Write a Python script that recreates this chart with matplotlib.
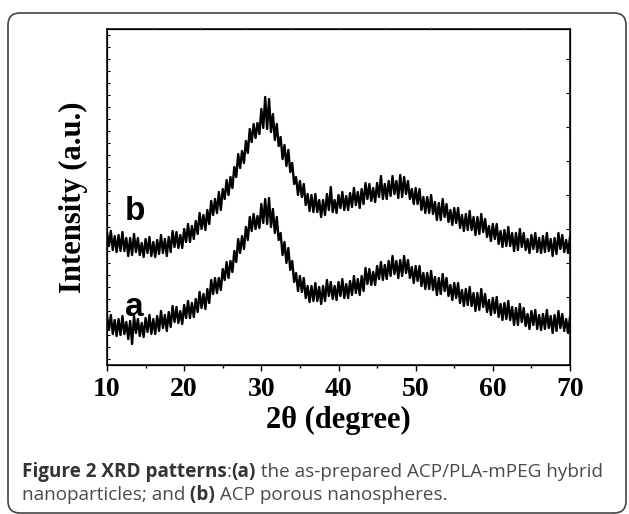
import numpy as np
import matplotlib
matplotlib.use("Agg")
import matplotlib.pyplot as plt
from matplotlib.patches import FancyBboxPatch
from matplotlib.transforms import IdentityTransform

# 2theta scan, every 0.25 degree
theta = np.linspace(10, 70, 241)

# (b) ACP porous nanospheres (upper trace), a.u.
curve_b = [
    159, 145, 160, 141, 155, 139, 156, 140, 159, 140, 153, 135, 153, 136, 157, 139,
    153, 136, 148, 134, 152, 138, 154, 135, 149, 134, 151, 137, 156, 138, 152, 135,
    154, 139, 160, 144, 159, 143, 156, 143, 162, 149, 167, 149, 165, 152, 170, 157,
    178, 162, 176, 161, 181, 167, 190, 176, 192, 178, 199, 181, 202, 192, 211, 196,
    214, 203, 224, 214, 237, 223, 240, 228, 250, 238, 262, 249, 267, 253, 268, 257,
    282, 263, 294, 262, 292, 259, 277, 251, 267, 245, 254, 232, 246, 225, 241, 219,
    228, 207, 214, 196, 210, 194, 207, 186, 197, 180, 196, 179, 197, 179, 191, 174,
    191, 176, 197, 181, 204, 179, 191, 178, 196, 183, 199, 181, 195, 181, 198, 184,
    203, 186, 199, 183, 202, 187, 208, 192, 207, 190, 203, 189, 208, 194, 215, 192,
    207, 192, 210, 195, 215, 197, 210, 193, 216, 194, 214, 197, 210, 192, 202, 187,
    203, 187, 202, 181, 194, 178, 194, 178, 196, 177, 189, 171, 188, 171, 192, 174,
    187, 169, 181, 166, 183, 168, 183, 163, 176, 160, 177, 161, 180, 161, 174, 156,
    174, 157, 177, 159, 172, 154, 165, 150, 167, 152, 167, 147, 160, 144, 161, 145,
    164, 145, 158, 140, 158, 141, 162, 144, 158, 141, 152, 138, 156, 142, 158, 139,
    153, 138, 155, 139, 158, 140, 152, 135, 153, 137, 158, 142, 156, 139, 151, 138,
    154,
]

# (a) as-prepared ACP/PLA-mPEG hybrid nanoparticles (lower trace), a.u.
curve_a = [
    75, 61, 76, 57, 71, 55, 72, 56, 75, 57, 69, 52, 70, 47, 75, 58,
    72, 55, 68, 54, 73, 59, 76, 57, 72, 57, 75, 60, 80, 63, 76, 60,
    79, 64, 85, 69, 84, 68, 80, 67, 86, 73, 90, 73, 88, 74, 92, 79,
    99, 83, 97, 82, 102, 88, 111, 97, 113, 98, 113, 101, 122, 111, 129, 113,
    130, 119, 140, 129, 152, 138, 155, 142, 164, 151, 174, 160, 177, 162, 175, 163,
    187, 168, 192, 167, 193, 164, 182, 158, 174, 151, 158, 136, 149, 128, 143, 121,
    130, 109, 118, 100, 115, 99, 113, 93, 105, 89, 105, 90, 108, 90, 104, 87,
    105, 90, 111, 95, 109, 92, 105, 91, 109, 95, 112, 93, 107, 93, 110, 96,
    115, 98, 112, 96, 115, 100, 123, 107, 122, 106, 119, 106, 125, 112, 129, 111,
    126, 112, 130, 115, 135, 117, 130, 113, 131, 115, 135, 118, 131, 113, 124, 108,
    125, 110, 125, 105, 118, 102, 118, 102, 120, 101, 114, 96, 113, 97, 117, 100,
    113, 95, 106, 91, 108, 93, 108, 88, 101, 85, 102, 86, 104, 85, 98, 80,
    98, 81, 102, 84, 97, 79, 91, 76, 93, 78, 94, 74, 87, 71, 88, 72,
    90, 71, 84, 66, 83, 66, 87, 69, 83, 65, 77, 62, 80, 66, 81, 62,
    76, 61, 77, 62, 81, 63, 75, 58, 76, 60, 80, 63, 77, 60, 72, 58,
    74,
]

curve_names = ["a", "b"]
name_pos = [(13.6, 84), (13.6, 180)]
x_ticks = [10, 20, 30, 40, 50, 60, 70]

W, H = 629, 514
fig = plt.figure(figsize=(W / 100, H / 100), dpi=100)

# rounded frame around the whole figure panel
frame = FancyBboxPatch((8, 1), 618, 500, boxstyle="round,pad=0,rounding_size=12",
                       transform=IdentityTransform(), fill=False,
                       edgecolor="#444444", linewidth=1.2)
fig.patches.append(frame)

ax = fig.add_axes([107 / W, 1 - 365 / H, 463 / W, 336 / H])
ax.plot(theta, curve_a, color="black", lw=1.7)
ax.plot(theta, curve_b, color="black", lw=1.7)

for name, (px, py) in zip(curve_names, name_pos):
    ax.text(px, py, name, fontsize=24, fontweight="bold", family="Liberation Sans",
            ha="center", va="center")

ax.set_xlim(10, 70)
ax.set_ylim(26, 362)
ax.set_xticks(x_ticks)
ax.set_xticks(np.arange(15, 70, 10), minor=True)
ax.set_yticks(np.arange(32, 362, 12))
ax.set_yticklabels([])
for lab in ax.get_xticklabels():
    lab.set_fontfamily("Liberation Serif")
    lab.set_fontweight("bold")
    lab.set_fontsize(20)
ax.tick_params(axis="x", which="major", direction="out", length=4.5, width=1.0, pad=4)
ax.tick_params(axis="x", which="minor", direction="out", length=2.5, width=1.0)
ax.tick_params(axis="y", direction="in", length=2, width=0.8)
for s in ax.spines.values():
    s.set_linewidth(1.1)

# right axis ticks
axr = ax.twinx()
axr.set_ylim(26, 362)
axr.set_yticks(np.arange(60, 362, 34))
axr.set_yticklabels([])
axr.tick_params(axis="y", direction="in", length=3, width=0.8)
# faint top ticks
axt = ax.twiny()
axt.set_xlim(10, 70)
axt.set_xticks(np.arange(16, 70, 6))
axt.set_xticklabels([])
axt.tick_params(axis="x", direction="out", length=1.5, width=0.6, color="#888888")

ax.set_xlabel("2\u03b8 (degree)", fontsize=22, fontweight="bold",
              family="Liberation Serif", labelpad=3)
ax.set_ylabel("Intensity (a.u.)", fontsize=22, fontweight="bold",
              family="Liberation Serif", labelpad=10)

# caption with bold runs
renderer = fig.canvas.get_renderer()
cap_font = "Open Sans"
cap_size = 13.6


def caption_line(pieces, x0, y0):
    x = x0
    for txt, bold in pieces:
        t = fig.text(x / W, 1 - y0 / H, txt, fontsize=cap_size, family=cap_font,
                     fontweight="bold" if bold else "normal",
                     color="#333333" if bold else "#4a4a4a", va="baseline")
        x += t.get_window_extent(renderer).width


caption_line([("Figure 2 XRD patterns", True), (":", False), ("(a)", True),
              (" the as-prepared ACP/PLA-mPEG hybrid", False)], 22, 477)
caption_line([("nanoparticles; and", False), (" (b)", True),
              (" ACP porous nanospheres.", False)], 22, 500)

fig.savefig("out.png", dpi=100)
